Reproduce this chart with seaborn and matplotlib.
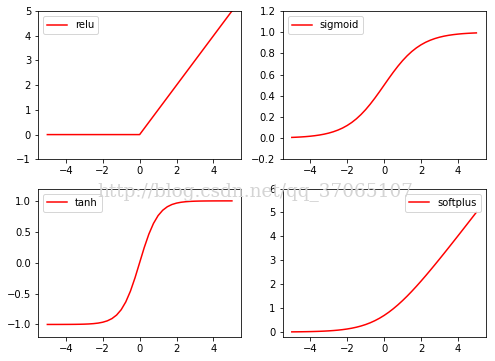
import numpy as np
import matplotlib
matplotlib.use('Agg')
import matplotlib.pyplot as plt
import seaborn as sns

# valores (x de -5 a 5, passo 0.25)
x = [-5.0, -4.75, -4.5, -4.25, -4.0, -3.75, -3.5, -3.25, -3.0, -2.75,
     -2.5, -2.25, -2.0, -1.75, -1.5, -1.25, -1.0, -0.75, -0.5, -0.25,
     0.0, 0.25, 0.5, 0.75, 1.0, 1.25, 1.5, 1.75, 2.0, 2.25,
     2.5, 2.75, 3.0, 3.25, 3.5, 3.75, 4.0, 4.25, 4.5, 4.75, 5.0]

relu = [0.0, 0.0, 0.0, 0.0, 0.0, 0.0, 0.0, 0.0, 0.0, 0.0,
        0.0, 0.0, 0.0, 0.0, 0.0, 0.0, 0.0, 0.0, 0.0, 0.0,
        0.0, 0.25, 0.5, 0.75, 1.0, 1.25, 1.5, 1.75, 2.0, 2.25,
        2.5, 2.75, 3.0, 3.25, 3.5, 3.75, 4.0, 4.25, 4.5, 4.75, 5.0]

sigmoid = [0.0067, 0.0086, 0.0110, 0.0140, 0.0180, 0.0230, 0.0293, 0.0373, 0.0474, 0.0601,
           0.0759, 0.0953, 0.1192, 0.1480, 0.1824, 0.2227, 0.2689, 0.3208, 0.3775, 0.4378,
           0.5, 0.5622, 0.6225, 0.6792, 0.7311, 0.7773, 0.8176, 0.8520, 0.8808, 0.9047,
           0.9241, 0.9399, 0.9526, 0.9627, 0.9707, 0.9770, 0.9820, 0.9860, 0.9890, 0.9914, 0.9933]

tanh = [-0.9999, -0.9999, -0.9998, -0.9996, -0.9993, -0.9989, -0.9982, -0.9970, -0.9951, -0.9919,
        -0.9866, -0.9780, -0.9640, -0.9414, -0.9051, -0.8483, -0.7616, -0.6351, -0.4621, -0.2449,
        0.0, 0.2449, 0.4621, 0.6351, 0.7616, 0.8483, 0.9051, 0.9414, 0.9640, 0.9780,
        0.9866, 0.9919, 0.9951, 0.9970, 0.9982, 0.9989, 0.9993, 0.9996, 0.9998, 0.9999, 0.9999]

softplus = [0.0067, 0.0086, 0.0110, 0.0141, 0.0181, 0.0233, 0.0298, 0.0380, 0.0486, 0.0620,
            0.0789, 0.1002, 0.1269, 0.1602, 0.2014, 0.2519, 0.3133, 0.3868, 0.4741, 0.5759,
            0.6931, 0.8259, 0.9741, 1.1368, 1.3133, 1.5019, 1.7014, 1.9102, 2.1269, 2.3502,
            2.5789, 2.8120, 3.0486, 3.2880, 3.5298, 3.7733, 4.0181, 4.2641, 4.5110, 4.7586, 5.0067]

fig, axes = plt.subplots(2, 2, figsize=(495 / 72, 361 / 72), dpi=72)
fig.subplots_adjust(left=0.077, right=0.981, top=0.9695, bottom=0.067,
                    wspace=0.204, hspace=0.197)

# relu
ax = axes[0, 0]
sns.lineplot(x=x, y=relu, ax=ax, color='red', label='relu', linewidth=1.5)
ax.set_ylim(-1, 5)
ax.legend(loc='upper left')

# sigmoid
ax = axes[0, 1]
sns.lineplot(x=x, y=sigmoid, ax=ax, color='red', label='sigmoid', linewidth=1.5)
ax.set_ylim(-0.2, 1.2)
ax.legend(loc='upper left')

# tanh
ax = axes[1, 0]
sns.lineplot(x=x, y=tanh, ax=ax, color='red', label='tanh', linewidth=1.5)
ax.set_ylim(-1.2, 1.2)
ax.legend(loc='upper left')

# softplus
ax = axes[1, 1]
sns.lineplot(x=x, y=softplus, ax=ax, color='red', label='softplus', linewidth=1.5)
ax.set_ylim(-0.2, 6)
ax.legend(loc='best')

for ax in axes.flat:
    ax.set_xticks([-4, -2, 0, 2, 4])

# marca d'água
fig.text(0.196, 0.456, 'http://blog.csdn.net/qq_37065107', fontsize=18.5,
         family='DejaVu Serif', color='#d4d4d4', zorder=10)

fig.savefig('out.png', dpi=72)
